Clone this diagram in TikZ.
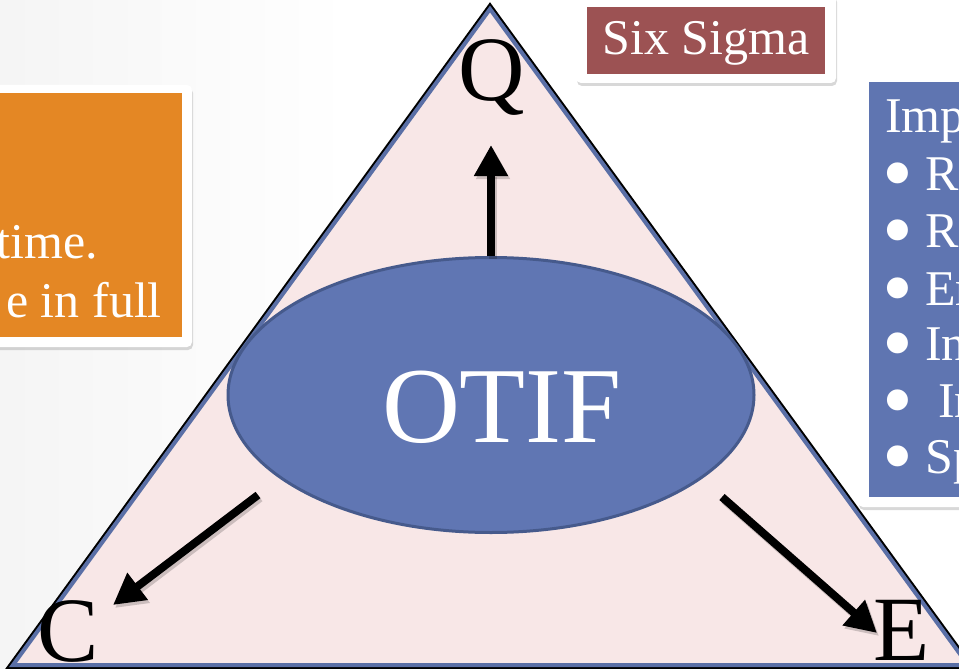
\documentclass[tikz,border=0pt]{standalone}
\usepackage{fontspec}
\setmainfont{Liberation Serif}
\usetikzlibrary{arrows.meta,shapes.geometric,shadows}
\definecolor{tripink}{HTML}{F8E7E7}
\definecolor{triblue}{HTML}{5A6FA6}
\definecolor{ellfill}{HTML}{6076B3}
\definecolor{elldraw}{HTML}{465A8C}
\definecolor{boxorange}{HTML}{E48724}
\definecolor{boxred}{HTML}{9C5253}
\definecolor{boxblue}{HTML}{5F75B1}
\newcommand\mybul{\raisebox{\dimexpr 27pt-\height\relax}[0pt][0pt]{\fontsize{88}{60}\selectfont\textbullet}}
\tikzset{
  frame/.style={fill=white, rounded corners=5pt, drop shadow={opacity=0.3, shadow xshift=1pt, shadow yshift=-3pt}},
  boxtxt/.style={text=white, font=\fontsize{50}{60}\selectfont, inner sep=0pt},
  letter/.style={text=black, font=\fontsize{92}{100}\selectfont, inner sep=0pt, anchor=base},
  bigarrow/.style={line width=8pt, black, -{Triangle[width=32pt,length=31pt]}},
  arrowshadow/.style={line width=8pt, black, opacity=0.18, -{Triangle[width=32pt,length=31pt]}, transform canvas={shift={(2pt,-3pt)}}},
}
\begin{document}
\begin{tikzpicture}[x=1pt,y=-1pt]
\useasboundingbox (0,0) rectangle (959,669);
\fill[white] (0,0) rectangle (959,669);
\shade[left color=black!4, right color=white] (0,0) rectangle (350,669);

% left orange box
\path[frame] (-20,85) rectangle (192,347);
\fill[boxorange] (-20,93) rectangle (182,337);
\node[boxtxt, anchor=base east] (t1) at (98,258) {time.};
\node[boxtxt, anchor=base east] (t2) at (162,317) {e in full};

% six sigma box
\path[frame] (576,-6) rectangle (836,83);
\fill[boxred] (587,7) rectangle (825,74);
\node[boxtxt, anchor=base] (six) at (706,55) {Six Sigma};

% right blue box
\path[frame] (858,72) rectangle (990,507);
\fill[boxblue] (869,82) rectangle (990,497);
\node[boxtxt, anchor=base west] (r0) at (885,132) {Imp};
\node[boxtxt, anchor=base west] (r1) at (882,190) {\makebox[43pt][l]{\mybul}Re};
\node[boxtxt, anchor=base west] (r2) at (882,247) {\makebox[43pt][l]{\mybul}Re};
\node[boxtxt, anchor=base west] (r3) at (882,305) {\makebox[43pt][l]{\mybul}Er};
\node[boxtxt, anchor=base west] (r4) at (882,360) {\makebox[43pt][l]{\mybul}In};
\node[boxtxt, anchor=base west] (r5) at (882,417) {\makebox[56pt][l]{\mybul}In};
\node[boxtxt, anchor=base west] (r6) at (882,473) {\makebox[43pt][l]{\mybul}Sp};

% triangle
\draw[black, line width=8pt, line join=miter] (490,9) -- (13,665) -- (968,665) -- cycle;
\fill[tripink] (490,9) -- (13,665) -- (968,665) -- cycle;
\draw[triblue, line width=4pt, line join=miter] (490,9) -- (13,665) -- (968,665) -- cycle;

% ellipse
\node[ellipse, fill=ellfill, draw=elldraw, line width=3pt, minimum width=526pt, minimum height=275pt, inner sep=0pt] (otif) at (491,395) {};
\node[text=white, font=\fontsize{108}{110}\selectfont, inner sep=0pt, anchor=base] (otiftxt) at (502,442) {OTIF};

% letters
\node[letter] (q) at (492,100) {Q};
\node[letter] (c) at (68,661) {C};
\node[letter] (e) at (902,660) {E};

% arrows
\coordinate (qtip) at (491,145);
\coordinate (ctail) at (258,495);
\coordinate (ctip) at (113,605);
\coordinate (etail) at (722,497);
\coordinate (etip) at (877,633);
\draw[arrowshadow] (otif.north) -- (qtip);
\draw[arrowshadow] (ctail) -- (ctip);
\draw[arrowshadow] (etail) -- (etip);
\draw[bigarrow] (otif.north) -- (qtip);
\draw[bigarrow] (ctail) -- (ctip);
\draw[bigarrow] (etail) -- (etip);
\end{tikzpicture}
\end{document}
